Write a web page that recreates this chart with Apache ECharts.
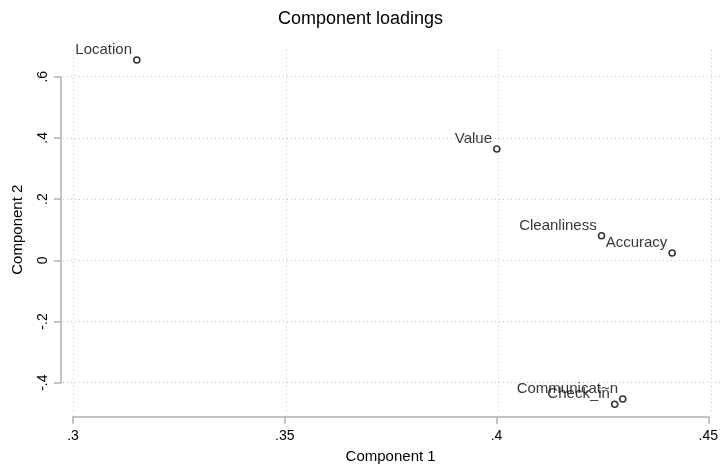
<!DOCTYPE html>
<html>
<head>
<meta charset="utf-8">
<script src="https://cdn.jsdelivr.net/npm/echarts@6/dist/echarts.min.js"></script>
<style>
html,body{margin:0;padding:0;background:#fff;}
#c{width:721px;height:470px;}
</style>
</head>
<body>
<div id="c"></div>
<script>
var names = ['Location','Value','Cleanliness','Accuracy','Communicat~n','Check_in'];
var comp1 = [0.3150, 0.3996, 0.4242, 0.4408, 0.4292, 0.4273];
var comp2 = [0.6546, 0.3640, 0.0804, 0.0239, -0.4533, -0.4706];
var xTicks = [0.3, 0.35, 0.4, 0.45];
var xTickLabels = ['.3', '.35', '.4', '.45'];
var yTicks = [-0.4, -0.2, 0, 0.2, 0.4, 0.6];
var yTickLabels = ['-.4', '-.2', '0', '.2', '.4', '.6'];

var FONT = '"Liberation Sans", Arial, sans-serif';
function lab(vals, labels) {
  return function (v) {
    for (var i = 0; i < vals.length; i++) if (Math.abs(vals[i] - v) < 1e-9) return labels[i];
    return '';
  };
}
var points = names.map(function (n, i) { return { name: n, value: [comp1[i], comp2[i]] }; });

var GRID = { color: '#c4c4c4', type: [1, 3], width: 1 };
var AXIS = { color: '#b0b0b0', width: 1.5 };

var chart = echarts.init(document.getElementById('c'), null, { renderer: 'canvas' });
chart.setOption({
  animation: false,
  backgroundColor: '#ffffff',
  title: {
    text: 'Component loadings', left: 'center', top: 5,
    textStyle: { fontFamily: FONT, fontSize: 18, fontWeight: 'normal', color: '#000' }
  },
  grid: [
    { left: 63, right: 0, top: 50, bottom: 57 },
    { left: 73, right: 9.7, top: 76.7, bottom: 87.3 }
  ],
  xAxis: [
    {
      gridIndex: 0, type: 'value', min: 0.29765, max: 0.45228,
      axisLine: { show: false }, axisLabel: { show: false },
      axisTick: { show: false, customValues: xTicks },
      splitLine: { show: true, lineStyle: GRID }
    },
    {
      gridIndex: 1, type: 'value', min: 0.3, max: 0.45, position: 'bottom', offset: 34,
      axisLine: { show: true, onZero: false, lineStyle: AXIS },
      axisTick: { show: true, length: 7, customValues: xTicks, lineStyle: AXIS },
      axisLabel: { show: true, customValues: xTicks, formatter: lab(xTicks, xTickLabels), margin: 12,
        fontFamily: FONT, fontSize: 14, color: '#000' },
      splitLine: { show: false },
      name: 'Component 1', nameLocation: 'middle', nameGap: 33,
      nameTextStyle: { fontFamily: FONT, fontSize: 15, color: '#000' }
    }
  ],
  yAxis: [
    {
      gridIndex: 0, type: 'value', min: -0.499, max: 0.6873,
      axisLine: { show: false }, axisLabel: { show: false },
      axisTick: { show: false, customValues: yTicks },
      splitLine: { show: true, lineStyle: GRID }
    },
    {
      gridIndex: 1, type: 'value', min: -0.4, max: 0.6, position: 'left', offset: 12,
      axisLine: { show: true, onZero: false, lineStyle: AXIS },
      axisTick: { show: true, length: 7, customValues: yTicks, lineStyle: AXIS },
      axisLabel: { show: true, customValues: yTicks, formatter: lab(yTicks, yTickLabels), rotate: 90, margin: 11,
        fontFamily: FONT, fontSize: 14, color: '#000' },
      splitLine: { show: false },
      name: 'Component 2', nameLocation: 'middle', nameGap: 36, nameRotate: 90,
      nameTextStyle: { fontFamily: FONT, fontSize: 15, color: '#000' }
    }
  ],
  series: [{
    type: 'scatter', xAxisIndex: 0, yAxisIndex: 0,
    data: points,
    symbol: 'circle', symbolSize: 6,
    itemStyle: { color: '#ffffff', borderColor: '#000000', borderWidth: 1.6 },
    label: {
      show: true, position: 'left', distance: 1, offset: [0, -10],
      formatter: function (p) { return p.name; },
      fontFamily: FONT, fontSize: 15, color: '#000000'
    },
    emphasis: { disabled: true }
  }]
});
</script>
</body>
</html>
